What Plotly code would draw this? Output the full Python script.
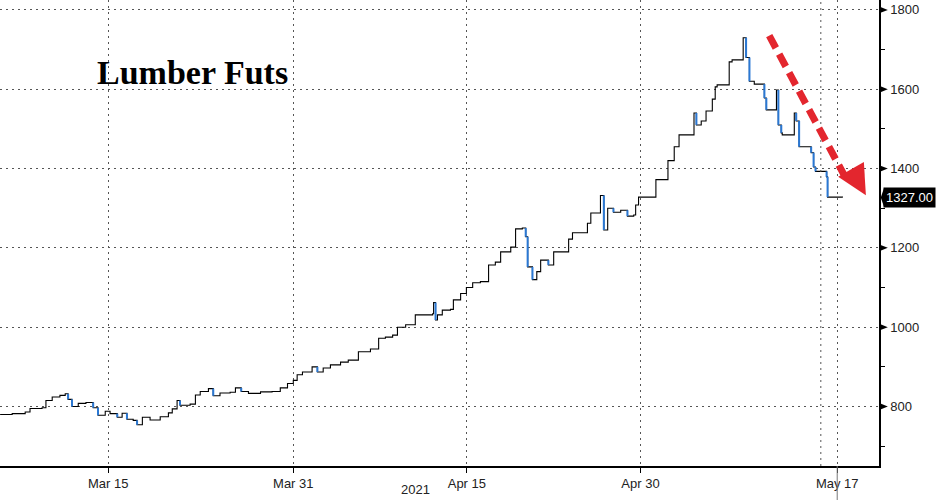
import plotly.graph_objects as go

# Lumber futures, intraday levels
times = [
    "2021-03-05 16:00", "2021-03-06 17:00", "2021-03-07 20:00", "2021-03-08 06:00",
    "2021-03-09 07:00", "2021-03-09 15:00", "2021-03-10 04:00", "2021-03-10 20:00",
    "2021-03-11 07:00", "2021-03-11 13:00", "2021-03-11 21:00", "2021-03-12 10:00",
    "2021-03-13 02:00", "2021-03-13 17:00", "2021-03-14 03:00", "2021-03-14 18:00",
    "2021-03-15 04:00", "2021-03-15 19:00", "2021-03-16 05:00", "2021-03-16 15:00",
    "2021-03-17 04:00", "2021-03-17 12:00", "2021-03-17 23:00", "2021-03-18 15:00",
    "2021-03-19 12:00", "2021-03-20 05:00", "2021-03-20 13:00", "2021-03-20 23:00",
    "2021-03-21 05:00", "2021-03-22 02:00", "2021-03-22 13:00", "2021-03-22 23:00",
    "2021-03-23 16:00", "2021-03-24 02:00", "2021-03-24 16:00", "2021-03-25 13:00",
    "2021-03-26 00:00", "2021-03-26 12:00", "2021-03-27 03:00", "2021-03-28 04:00",
    "2021-03-29 04:00", "2021-03-29 21:00", "2021-03-30 12:00", "2021-03-31 00:00",
    "2021-03-31 08:00", "2021-03-31 19:00", "2021-04-01 15:00", "2021-04-02 02:00",
    "2021-04-02 14:00", "2021-04-03 05:00", "2021-04-04 02:00", "2021-04-04 18:00",
    "2021-04-05 15:00", "2021-04-06 16:00", "2021-04-07 09:00", "2021-04-07 23:00",
    "2021-04-08 14:00", "2021-04-09 00:00", "2021-04-09 17:00", "2021-04-10 13:00",
    "2021-04-12 01:00", "2021-04-12 03:00", "2021-04-12 07:00", "2021-04-12 11:00",
    "2021-04-12 21:00", "2021-04-13 14:00", "2021-04-13 20:00", "2021-04-14 11:00",
    "2021-04-14 23:00", "2021-04-15 12:00", "2021-04-16 04:00", "2021-04-16 21:00",
    "2021-04-17 11:00", "2021-04-17 22:00", "2021-04-18 19:00", "2021-04-19 05:00",
    "2021-04-19 19:00", "2021-04-20 02:00", "2021-04-20 06:00", "2021-04-20 16:00",
    "2021-04-21 01:00", "2021-04-21 09:00", "2021-04-22 01:00", "2021-04-22 12:00",
    "2021-04-23 19:00", "2021-04-24 03:00", "2021-04-25 10:00", "2021-04-25 17:00",
    "2021-04-26 13:00", "2021-04-26 20:00", "2021-04-27 04:00", "2021-04-27 16:00",
    "2021-04-28 07:00", "2021-04-28 21:00", "2021-04-29 10:00", "2021-04-29 14:00",
    "2021-04-29 20:00", "2021-05-01 08:00", "2021-05-02 09:00", "2021-05-02 22:00",
    "2021-05-03 08:00", "2021-05-04 15:00", "2021-05-04 20:00", "2021-05-05 06:00",
    "2021-05-05 16:00", "2021-05-06 05:00", "2021-05-06 11:00", "2021-05-06 15:00",
    "2021-05-07 16:00", "2021-05-07 22:00", "2021-05-08 21:00", "2021-05-09 03:00",
    "2021-05-09 10:00", "2021-05-09 20:00", "2021-05-10 17:00", "2021-05-10 21:00",
    "2021-05-11 18:00", "2021-05-11 22:00", "2021-05-12 04:00", "2021-05-12 06:00",
    "2021-05-13 07:00", "2021-05-13 11:00", "2021-05-13 17:00", "2021-05-14 18:00",
    "2021-05-14 23:00", "2021-05-15 03:00", "2021-05-16 02:00", "2021-05-16 04:00",
    "2021-05-17 11:00",
]
prices = [
    780, 782, 786, 795, 797, 815, 824, 828,
    832, 818, 800, 808, 810, 797, 778, 788,
    782, 773, 783, 768, 765, 754, 773, 766,
    774, 784, 794, 815, 803, 806, 829, 838,
    845, 827, 834, 836, 847, 838, 833, 837,
    838, 847, 858, 866, 880, 887, 900, 887,
    897, 905, 912, 917, 938, 945, 972, 975,
    980, 1000, 1006, 1031, 1034, 1062, 1018, 1031,
    1043, 1045, 1069, 1085, 1100, 1112, 1115, 1157,
    1164, 1190, 1202, 1248, 1250, 1228, 1152, 1120,
    1140, 1169, 1157, 1190, 1222, 1238, 1262, 1288,
    1332, 1245, 1300, 1290, 1295, 1280, 1283, 1308,
    1328, 1372, 1420, 1455, 1485, 1540, 1510, 1520,
    1545, 1575, 1606, 1611, 1669, 1674, 1730, 1680,
    1620, 1613, 1578, 1548, 1598, 1510, 1490, 1485,
    1540, 1520, 1455, 1440, 1404, 1393, 1379, 1328,
    1327,
]
last_price = 1327.00

x_tickvals = ["2021-03-15", "2021-03-31", "2021-04-15", "2021-04-30", "2021-05-17"]
x_ticktext = ["Mar 15", "Mar 31", "Apr 15", "Apr 30", "May 17"]
y_tickvals = [800, 1000, 1200, 1400, 1600, 1800]

# down moves get drawn in blue, like the down candles
blue_x, blue_y = [], []
for i in range(1, len(prices)):
    if prices[i] < prices[i - 1] - 8:
        blue_x += [times[i], times[i], None]
        blue_y += [prices[i - 1], prices[i], None]

fig = go.Figure()
fig.add_trace(go.Scatter(x=times, y=prices, mode="lines",
                         line=dict(color="black", width=1.1, shape="hv"),
                         hoverinfo="skip"))
fig.add_trace(go.Scatter(x=blue_x, y=blue_y, mode="lines",
                         line=dict(color="#2a78d4", width=2),
                         hoverinfo="skip"))

fig.update_layout(
    width=936,
    height=500,
    paper_bgcolor="white",
    plot_bgcolor="white",
    showlegend=False,
    margin=dict(l=0, r=57, t=0, b=34),
    font=dict(family="Liberation Sans, Arial", size=13, color="#222"),
    xaxis=dict(
        type="date",
        range=["2021-03-05 15:45", "2021-05-20 14:40"],
        tickmode="array",
        tickvals=x_tickvals,
        ticktext=x_ticktext,
        ticks="outside",
        ticklen=5,
        tickcolor="black",
        showline=True,
        linecolor="black",
        linewidth=1.5,
        showgrid=True,
        gridcolor="#555",
        griddash="2px,4px",
        gridwidth=1,
        zeroline=False,
    ),
    yaxis=dict(
        side="right",
        range=[650, 1825],
        tickmode="array",
        tickvals=y_tickvals,
        ticks="",
        ticklabelstandoff=7,
        showline=True,
        linecolor="black",
        linewidth=1.5,
        showgrid=True,
        gridcolor="#555",
        griddash="2px,4px",
        gridwidth=1,
        zeroline=False,
        minor=dict(tickvals=[700, 900, 1100, 1300, 1500, 1700], ticks="outside",
                   ticklen=4, tickcolor="black", showgrid=False),
    ),
)

# small pointer triangles at the labelled y ticks
for v in y_tickvals:
    fig.add_shape(type="path", xref="paper", yref="y",
                  path=f"M 1.001,{v + 8} L 1.010,{v} L 1.001,{v - 8} Z",
                  fillcolor="black", line=dict(width=0))

# extra vertical gridline near the last session
fig.add_shape(type="line", xref="x", yref="paper", x0="2021-05-15 14:00", x1="2021-05-15 14:00",
              y0=0, y1=1, line=dict(color="#555", width=1, dash="2px,4px"))
# current-day marker below the axis
fig.add_shape(type="line", xref="x", yref="paper", x0="2021-05-17", x1="2021-05-17",
              y0=-0.075, y1=0, line=dict(color="#777", width=1))

# title
fig.add_annotation(text="<b>Lumber Futs</b>", xref="paper", yref="paper",
                   x=0.108, y=0.845, xanchor="left", yanchor="middle", showarrow=False,
                   font=dict(family="Liberation Serif, Times New Roman", size=34, color="black"))

# year label under the axis
fig.add_annotation(text="2021", xref="paper", yref="paper", x=0.473, y=-0.0515,
                   xanchor="center", yanchor="middle", showarrow=False,
                   font=dict(size=13, color="#222"))

# red dashed arrow
fig.add_shape(type="line", xref="x", yref="y",
              x0="2021-05-11 03:00", y0=1735, x1="2021-05-17 16:00", y1=1380,
              line=dict(color="#e3262e", width=7, dash="14px,7px"))
fig.add_annotation(x="2021-05-19 11:30", y=1333, ax=-11, ay=-19, text="",
                   showarrow=True, arrowhead=2, arrowsize=0.85, arrowwidth=7,
                   arrowcolor="#e3262e", standoff=0)

# last price tag on the right axis
fig.add_shape(type="path", xref="paper", yref="y",
              path="M 1.002,1327 L 1.006,1352 L 1.006,1302 Z",
              fillcolor="black", line=dict(width=0))
fig.add_annotation(text=f"{last_price:.2f}", xref="paper", yref="y",
                   x=1.004, y=last_price, xanchor="left", yanchor="middle",
                   showarrow=False, bgcolor="black", borderpad=2,
                   font=dict(size=13, color="white"))

fig.write_html("out.html", config={"displayModeBar": False},
               post_script="document.body.style.margin='0';")
